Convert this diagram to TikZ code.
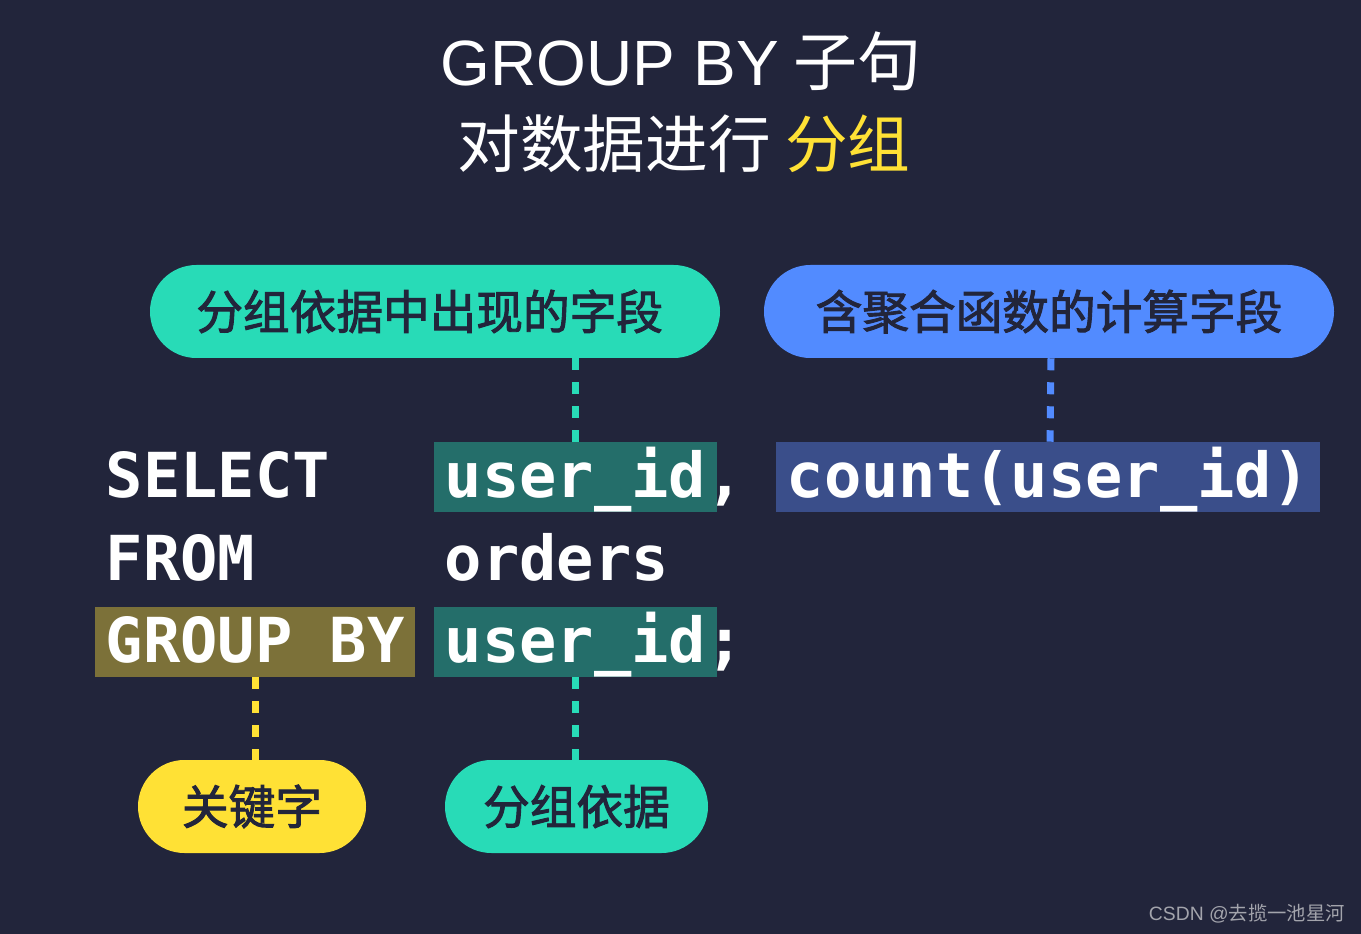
\documentclass[tikz,border=0pt]{standalone}
\usepackage{fontspec}
\setmainfont{Noto Sans CJK SC}
\newfontfamily\cjk{Noto Sans CJK SC}
\newfontfamily\cjkb[FakeBold=2]{Noto Sans CJK SC}
\newfontfamily\latinsans{Liberation Sans}
\newfontfamily\code{DejaVu Sans Mono}
\definecolor{bgc}{HTML}{22253B}
\definecolor{gcol}{HTML}{28DBB7}
\definecolor{bcol}{HTML}{528BFF}
\definecolor{ycol}{HTML}{FFE135}
\definecolor{tealbox}{HTML}{246E6A}
\definecolor{navybox}{HTML}{3A4E8A}
\definecolor{olivebox}{HTML}{7C7139}
\definecolor{wmgray}{HTML}{A3A4AC}
\tikzset{
  codetext/.style={font=\code\bfseries\fontsize{46.5pt}{50pt}\selectfont, text=white,
    inner xsep=7.9pt, inner ysep=0pt, text height=41.25pt, text depth=11.25pt, anchor=west},
  punct/.style={font=\code\bfseries\fontsize{46.5pt}{50pt}\selectfont, text=white,
    inner sep=0pt, text height=41.25pt, text depth=11.25pt, anchor=west},
  pill/.style={rectangle, rounded corners=34.8pt, minimum height=69.75pt,
    font=\cjkb\fontsize{35pt}{40pt}\selectfont, text=bgc, inner sep=0pt,
    text height=28pt, text depth=1.4pt},
  dashline/.style={line width=5.25pt, dash pattern=on 9pt off 9pt},
  titletext/.style={text=white, inner sep=0pt, anchor=base},
}
\begin{document}
\begin{tikzpicture}[x=0.75pt, y=-0.75pt]
\fill[bgc] (0,0) rectangle (1361,934);
\useasboundingbox (0,0) rectangle (1361,934);

% title
\node[titletext, font=\fontsize{48pt}{56pt}\selectfont] (t1) at (681,86)
  {{\latinsans GROUP BY} {\cjk 子句}};
\node[titletext, font=\cjk\fontsize{47pt}{56pt}\selectfont] (t2) at (684,168)
  {对数据进行 \textcolor{ycol}{分组}};

% top pills
\node[pill, fill=gcol, minimum width=427.5pt] (p1) at (435,311.5) {\hspace*{-8pt}分组依据中出现的字段};
\node[pill, fill=bcol, minimum width=427.5pt] (p2) at (1049,311.5) {含聚合函数的计算字段};

% code
\node[codetext] (sel) at (95,477) {SELECT};
\node[codetext] (frm) at (95,560) {FROM};
\node[codetext, fill=olivebox] (gb) at (95,642) {GROUP BY};
\node[codetext, fill=tealbox] (uid1) at (434,477) {user\_id};
\node[punct] (comma) at ([xshift=-7.9pt]uid1.east) {,};
\node[codetext] (ord) at (434,560) {orders};
\node[codetext, fill=tealbox] (uid2) at (434,642) {user\_id};
\node[punct] (semi) at ([xshift=-7.9pt]uid2.east) {;};
\node[codetext, fill=navybox] (cnt) at (776,477) {count(user\_id)};

% bottom pills
\node[pill, fill=ycol, minimum width=171pt] (p3) at (252,806.5) {关键字};
\node[pill, fill=gcol, minimum width=197.25pt] (p4) at (576.5,806.5) {分组依据};

% connectors
\draw[dashline, gcol] (p1.south -| uid1.north) -- (uid1.north);
\draw[dashline, bcol] ([xshift=1.5pt]p2.south) -- ([xshift=1.5pt]cnt.north);
\draw[dashline, ycol] (gb.south) -- (gb.south |- p3.north);
\draw[dashline, gcol] (uid2.south) -- (uid2.south |- p4.north);

% watermark
\node[anchor=east, inner sep=0pt, font=\fontsize{14.5pt}{16pt}\selectfont, text=wmgray] (wm) at (1345,914) {{\latinsans CSDN @}{\cjk 去揽一池星河}};
\end{tikzpicture}
\end{document}
